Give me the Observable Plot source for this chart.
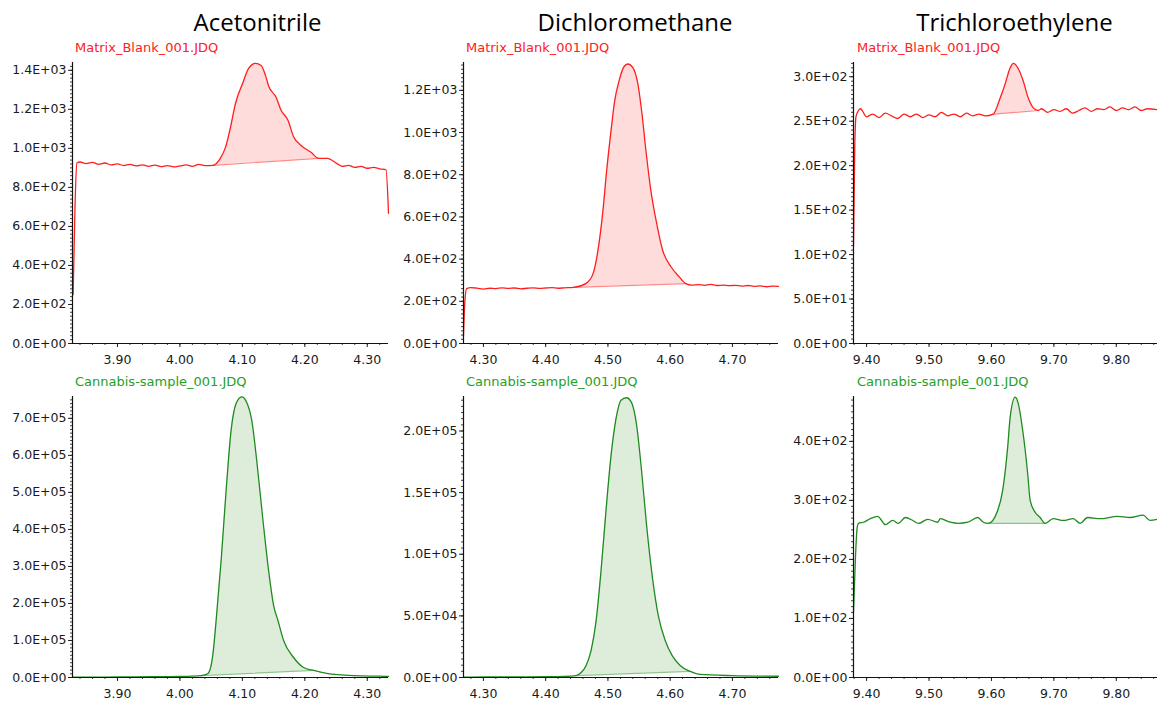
<!DOCTYPE html>
<html><head><meta charset="utf-8">
<script src="https://cdn.jsdelivr.net/npm/d3@7"></script>
<script src="https://cdn.jsdelivr.net/npm/@observablehq/plot@0.6"></script>
<style>
body{margin:0;background:#fff;}
#wrap{position:relative;width:1157px;height:704px;overflow:hidden;font-family:"DejaVu Sans",sans-serif;background:#fff;}
.title{position:absolute;font-family:"Open Sans",sans-serif;font-size:24px;color:#000;transform:translateX(-50%);white-space:nowrap;line-height:1;}
.sample{position:absolute;font-family:"DejaVu Sans",sans-serif;font-size:13px;white-space:nowrap;line-height:1;}
.panel{position:absolute;}
</style></head><body><div id="wrap"></div>
<script>
// ---- data ----
const compounds = ["Acetonitrile", "Dichloromethane", "Trichloroethylene"];
const samples = ["Matrix_Blank_001.JDQ", "Cannabis-sample_001.JDQ"];

const acnBlankT = [3.829,3.832,3.835,3.84,3.85,3.86,3.87,3.88,3.89,3.90,3.91,3.92,3.93,3.94,3.95,3.96,3.97,3.98,3.99,4.00,4.01,4.02,4.03,4.04,4.053,4.064,4.073,4.081,4.089,4.101,4.110,4.121,4.130,4.137,4.142,4.154,4.162,4.173,4.182,4.194,4.210,4.222,4.236,4.251,4.26,4.27,4.28,4.29,4.30,4.31,4.32,4.33,4.334];
const acnBlankV = [250,700,925,930,922,928,918,925,915,920,912,918,910,915,908,914,906,912,905,910,915,908,918,912,913,945,1005,1108,1230,1338,1410,1436,1425,1374,1320,1262,1195,1144,1060,1015,980,949,949,923,908,913,903,908,898,903,895,890,667];
const acnBlankPeak = [4.053, 4.222];

const dcmBlankT = [4.268,4.270,4.273,4.28,4.29,4.30,4.31,4.32,4.33,4.34,4.35,4.36,4.37,4.38,4.39,4.40,4.41,4.42,4.43,4.445,4.465,4.476,4.484,4.492,4.498,4.505,4.511,4.518,4.526,4.532,4.540,4.548,4.555,4.561,4.569,4.579,4.588,4.601,4.614,4.625,4.635,4.645,4.655,4.665,4.675,4.685,4.695,4.705,4.715,4.725,4.735,4.745,4.755,4.765,4.774];
const dcmBlankV = [38,190,260,265,262,258,262,260,264,261,263,259,262,264,261,263,265,262,264,266,285,330,441,630,820,1009,1152,1246,1313,1325,1308,1232,1081,915,725,559,441,365,318,284,277,279,276,280,275,277,274,276,272,275,271,273,269,272,271];
const dcmBlankPeak = [4.445, 4.625];

const tceBlankT = [9.379,9.381,9.383,9.387,9.39,9.40,9.41,9.42,9.43,9.44,9.45,9.46,9.47,9.48,9.49,9.50,9.51,9.52,9.53,9.54,9.55,9.56,9.57,9.58,9.59,9.603,9.614,9.622,9.630,9.635,9.643,9.651,9.659,9.667,9.675,9.68,9.69,9.70,9.71,9.72,9.73,9.74,9.75,9.76,9.77,9.78,9.79,9.80,9.81,9.82,9.83,9.84,9.85,9.866];
const tceBlankV = [110,220,255,262,264,255,258,254,259,256,253,258,255,258,254,257,255,260,256,258,255,259,256,258,256,258,276,292,310,315,309,295,276,265,262,264,260,263,261,264,259,262,265,261,264,263,266,262,265,263,266,262,264,263];
const tceBlankPeak = [9.603, 9.675];

const acnSampleT = [3.829,3.88,3.93,3.97,4.00,4.02,4.034,4.045,4.053,4.058,4.066,4.074,4.082,4.090,4.099,4.107,4.115,4.123,4.133,4.142,4.150,4.157,4.166,4.182,4.198,4.214,4.235,4.278,4.32,4.334];
const acnSampleV = [1000,1200,1500,2500,2800,3500,5000,11000,65000,154000,316000,505000,668000,740000,758000,743000,695000,586000,424000,289000,195000,154000,100000,54000,27000,19000,11000,5000,3500,3000];
const acnSamplePeak = [4.034, 4.214];

const dcmSampleT = [4.268,4.30,4.35,4.40,4.43,4.449,4.457,4.465,4.473,4.481,4.489,4.497,4.505,4.513,4.521,4.530,4.538,4.546,4.554,4.562,4.572,4.581,4.592,4.603,4.616,4.632,4.648,4.70,4.774];
const dcmSampleV = [200,400,500,600,800,1500,4000,9800,22000,46000,87000,136000,180000,210000,225000,227000,223000,205000,168000,124000,79000,50000,30000,18000,9800,4900,2500,1500,1000];
const dcmSamplePeak = [4.449, 4.632];

const tceSampleT = [9.379,9.382,9.385,9.387,9.395,9.406,9.418,9.422,9.430,9.442,9.451,9.462,9.474,9.483,9.498,9.514,9.518,9.534,9.547,9.562,9.578,9.587,9.595,9.610,9.618,9.626,9.630,9.638,9.643,9.650,9.658,9.662,9.670,9.678,9.686,9.699,9.715,9.731,9.742,9.754,9.774,9.802,9.822,9.843,9.854,9.866];
const tceSampleV = [110,200,255,261,263,269,273,269,259,266,261,271,266,261,268,263,269,263,261,263,271,263,261,283,317,390,441,475,464,419,346,300,280,271,261,269,266,269,261,271,269,273,271,275,266,268];
const tceSamplePeak = [9.595, 9.686];

// x tick labels
const xTicksAcn = [3.90, 4.00, 4.10, 4.20, 4.30];
const xTicksDcm = [4.30, 4.40, 4.50, 4.60, 4.70];
const xTicksTce = [9.40, 9.50, 9.60, 9.70, 9.80];
// y tick labels
const yTicksAcnBlank = [0, 200, 400, 600, 800, 1000, 1200, 1400];
const yTicksDcmBlank = [0, 200, 400, 600, 800, 1000, 1200];
const yTicksTceBlank = [0, 50, 100, 150, 200, 250, 300];
const yTicksAcnSample = [0, 1e5, 2e5, 3e5, 4e5, 5e5, 6e5, 7e5];
const yTicksDcmSample = [0, 5e4, 1e5, 1.5e5, 2e5];
const yTicksTceSample = [0, 100, 200, 300, 400];

// ---- layout / style ----
const cols = [
  {left: 0,   ml: 72, width: 400, mr: 12, xd: [3.828, 4.334], xt: xTicksAcn, tx: 257.5, lx: 75},
  {left: 390, ml: 73, width: 398, mr: 10, xd: [4.268, 4.774], xt: xTicksDcm, tx: 635, lx: 466},
  {left: 780, ml: 73, width: 377, mr: 0,  xd: [9.379, 9.866], xt: xTicksTce, tx: 1014.5, lx: 857}
];
const rows = [
  {top: 50, mt: 12, mb: 30, label: 41, line: "#ff1e1e", fill: "#ffdcdc", base: "#ff8a8a", text: "#ff2020"},
  {top: 384, mt: 12, mb: 27, label: 375, line: "#1f8a1f", fill: "#deedda", base: "#8cc68c", text: "#25a025"}
];
const panels = [
  [0, 0, acnBlankT, acnBlankV, acnBlankPeak, 1440, yTicksAcnBlank],
  [0, 1, dcmBlankT, dcmBlankV, dcmBlankPeak, 1332, yTicksDcmBlank],
  [0, 2, tceBlankT, tceBlankV, tceBlankPeak, 316, yTicksTceBlank],
  [1, 0, acnSampleT, acnSampleV, acnSamplePeak, 7.59e5, yTicksAcnSample],
  [1, 1, dcmSampleT, dcmSampleV, dcmSamplePeak, 2.28e5, yTicksDcmSample],
  [1, 2, tceSampleT, tceSampleV, tceSamplePeak, 476, yTicksTceSample]
];

const fmtE = v => {
  const [m, e] = v.toExponential(1).split("e");
  return m + "E" + e[0] + e.slice(1).padStart(2, "0");
};

const wrap = document.getElementById("wrap");

for (const [ri, ci, T, V, peak, ymax, yt] of panels) {
  const r = rows[ri], c = cols[ci];
  const data = T.map((t, i) => ({t, v: V[i]}));
  const s = data.find(d => d.t === peak[0]);
  const e = data.find(d => d.t === peak[1]);
  const fillData = data.filter(d => d.t >= peak[0] && d.t <= peak[1])
    .map(d => ({t: d.t, v: d.v, b: s.v + (e.v - s.v) * (d.t - s.t) / (e.t - s.t)}));
  const yStep = yt[1] - yt[0];
  const yMinor = d3.range(0, ymax, yStep / 10);
  const xMinor = d3.range(Math.ceil(c.xd[0] * 50) / 50, c.xd[1], 0.02);
  const h = r.mt + 281 + r.mb;
  const svg = Plot.plot({
    width: c.width, height: h,
    marginLeft: c.ml, marginRight: c.mr, marginTop: r.mt, marginBottom: r.mb,
    style: {background: "transparent", fontFamily: "DejaVu Sans", fontSize: "12.5px", overflow: "visible"},
    x: {domain: c.xd, axis: null, label: null},
    y: {domain: [0, ymax], axis: null, label: null},
    marks: [
      Plot.areaY(fillData, {x: "t", y1: "b", y2: "v", fill: r.fill, curve: "monotone-x"}),
      Plot.line([s, e], {x: "t", y: "v", stroke: r.base, strokeWidth: 1.2}),
      Plot.line(data, {x: "t", y: "v", stroke: r.line, strokeWidth: 1.3, curve: "monotone-x"}),
      Plot.axisY(yMinor, {tickSize: 2, tickFormat: () => "", label: null, stroke: "#444", strokeWidth: 1}),
      Plot.axisY(yt, {tickSize: 4, tickPadding: 2, tickFormat: fmtE, label: null, fill: "#1a1a1a", stroke: "#222", fontSize: 12.5}),
      Plot.axisX(xMinor, {tickSize: 2, tickFormat: () => "", label: null, stroke: "#444"}),
      Plot.axisX(c.xt, {tickSize: 4, tickPadding: 8, tickFormat: d3.format(".2f"), label: null, fill: "#1a1a1a", stroke: "#222", fontSize: 12.5}),
      Plot.ruleX([c.xd[0]], {stroke: "#111", strokeWidth: 1.2}),
      Plot.ruleY([0], {stroke: "#111", strokeWidth: 1.2})
    ]
  });
  svg.classList.add("panel");
  svg.style.left = c.left + "px";
  svg.style.top = r.top + "px";
  svg.style.maxWidth = "none";
  wrap.appendChild(svg);
}

cols.forEach((c, ci) => {
  const t = document.createElement("div");
  t.className = "title";
  t.textContent = compounds[ci];
  t.style.left = c.tx + "px";
  t.style.top = "10px";
  wrap.appendChild(t);
  rows.forEach((r, ri) => {
    const l = document.createElement("div");
    l.className = "sample";
    l.textContent = samples[ri];
    l.style.left = c.lx + "px";
    l.style.top = r.label + "px";
    l.style.color = r.text;
    wrap.appendChild(l);
  });
});
</script></body></html>
